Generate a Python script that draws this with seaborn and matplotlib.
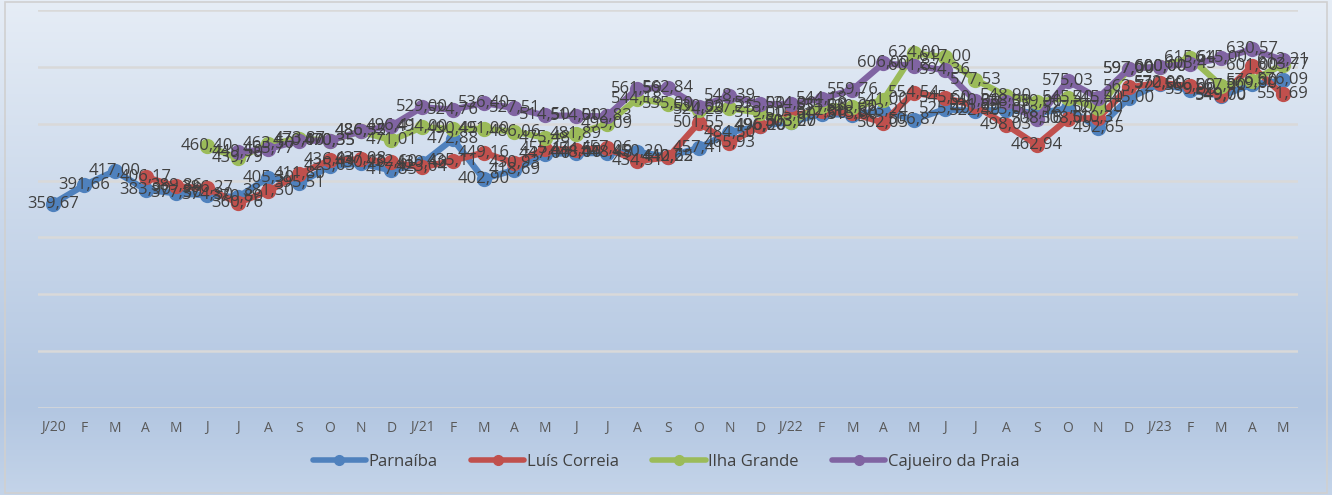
import numpy as np
import pandas as pd
import matplotlib
matplotlib.use("Agg")
import matplotlib.pyplot as plt
import seaborn as sns
from matplotlib.colors import LinearSegmentedColormap
from matplotlib.lines import Line2D

months = ["J/20", "F", "M", "A", "M", "J", "J", "A", "S", "O", "N", "D",
          "J/21", "F", "M", "A", "M", "J", "J", "A", "S", "O", "N", "D",
          "J/22", "F", "M", "A", "M", "J", "J", "A", "S", "O", "N", "D",
          "J/23", "F", "M", "A", "M"]

series_names = ["Parnaíba", "Luís Correia", "Ilha Grande", "Cajueiro da Praia"]

parnaiba = [359.67, 391.66, 417.00, 383.90, 377.50, 374.30, 370.80, 405.30, 395.51, 425.03,
            430.20, 417.85, 430.40, 472.88, 402.90, 418.69, 447.00, 448.06, 448.48, 450.20,
            442.22, 457.41, 484.50, 496.20, 503.00, 517.00, 515.60, 523.24, 506.87, 525.40,
            522.40, 525.00, 518.16, 527.00, 492.65, 545.00, 570.00, 559.00, 549.00, 569.00,
            576.09]
luis_correia = [None, None, None,
                406.17, 389.86, 386.27, 360.76, 381.30, 411.80, 436.04, 437.08, 432.60,
                423.04, 435.11, 449.16, 430.93, 455.14, 454.50, 457.06, 434.51, 440.65,
                501.55, 465.93, 496.00, 515.00, 522.00, 518.00, 502.05, 554.54, 545.60,
                531.60, 498.03, 462.94, 508.00, 510.37, 563.72, 572.00, 566.00, 549.70,
                601.00, 551.69]
ilha_grande = [None] * 5 + [
    460.40, 439.79, 463.50, 473.87, 470.35, 486.35, 471.01, 494.00, 490.45, 491.00,
    486.06, 475.48, 481.89, 499.09, 544.18, 535.00, 524.23, 527.25, 519.00, 503.27,
    531.00, 530.00, 541.00, 624.00, 617.00, 577.53, 548.90, 539.00, 545.40, 527.00,
    597.00, 600.00, 615.64, 567.00, 576.00, 603.77]
cajueiro = [None] * 6 + [
    449.50, 455.77, 470.00, 470.35, 486.52, 496.41, 529.00, 524.76, 536.40, 527.51,
    514.50, 514.00, 512.83, 561.59, 562.84, 530.00, 548.39, 535.00, 534.00, 544.18,
    559.76, 606.00, 601.87, 594.36, 540.00, 538.00, 508.16, 575.03, 545.40, 597.00,
    600.00, 605.43, 615.00, 630.57, 612.21]

colors = ["#4F81BD", "#C0504D", "#9BBB59", "#8064A2"]

rows = []
for name, vals in zip(series_names, [parnaiba, luis_correia, ilha_grande, cajueiro]):
    for i, v in enumerate(vals):
        if v is not None:
            rows.append({"idx": i, "value": v, "series": name})
df = pd.DataFrame(rows)

sns.set_style("white")
plt.rcParams["font.family"] = ["Open Sans", "DejaVu Sans"]

W, H = 13.32, 4.95
fig = plt.figure(figsize=(W, H), dpi=100)

# gradient background
bg = fig.add_axes([0, 0, 1, 1], zorder=-10)
grad_cmap = LinearSegmentedColormap.from_list(
    "bg", [(0.0, "#e6edf6"), (0.82, "#b2c6e1"), (1.0, "#c4d4e9")])
g = np.linspace(0, 1, 256).reshape(-1, 1)
bg.imshow(g, aspect="auto", cmap=grad_cmap, extent=[0, 1, 0, 1], origin="upper")
bg.set_xlim(0, 1)
bg.set_ylim(0, 1)
bg.axis("off")
bg.add_patch(plt.Rectangle((0.004, 0.004), 0.992, 0.992, fill=False,
                           edgecolor="#d0d0d0", linewidth=1.2, transform=bg.transAxes))

ax = fig.add_axes([38 / 1332, 1 - 408 / 495, 1260 / 1332, 398 / 495])
ax.patch.set_alpha(0)

sns.lineplot(data=df, x="idx", y="value", hue="series", hue_order=series_names,
             palette=colors, marker="o", markersize=11, markeredgewidth=0,
             linewidth=4.5, ax=ax, legend=False, sort=False)

for name, col in zip(series_names, colors):
    sub = df[df["series"] == name]
    for _, r in sub.iterrows():
        ax.text(r["idx"], r["value"], f"{r['value']:.2f}".replace(".", ","),
                ha="center", va="center", fontsize=12, color="#404040", zorder=5)

ax.set_ylim(0, 700)
ax.set_xlim(-0.5, 40.5)
ax.set_yticks(range(0, 701, 100))
ax.set_yticklabels([])
ax.tick_params(axis="y", length=0)
ax.yaxis.grid(True, color="#d9d9d9", linewidth=1.8)
ax.set_axisbelow(True)
ax.set_xticks(range(len(months)))
ax.set_xticklabels(months, fontsize=10, color="#595959")
ax.tick_params(axis="x", length=0, pad=9)
for s in ax.spines.values():
    s.set_visible(False)
ax.set_xlabel("")
ax.set_ylabel("")

handles = [Line2D([0], [0], color=c, linewidth=4, marker="o", markersize=7)
           for c in colors]
fig.legend(handles, series_names, loc="center", bbox_to_anchor=(0.5, 1 - 462 / 495),
           ncol=4, frameon=False, fontsize=12, handlelength=3.2, columnspacing=2.0,
           handletextpad=0.15, labelcolor="#404040")

fig.savefig("out.png", dpi=100)
